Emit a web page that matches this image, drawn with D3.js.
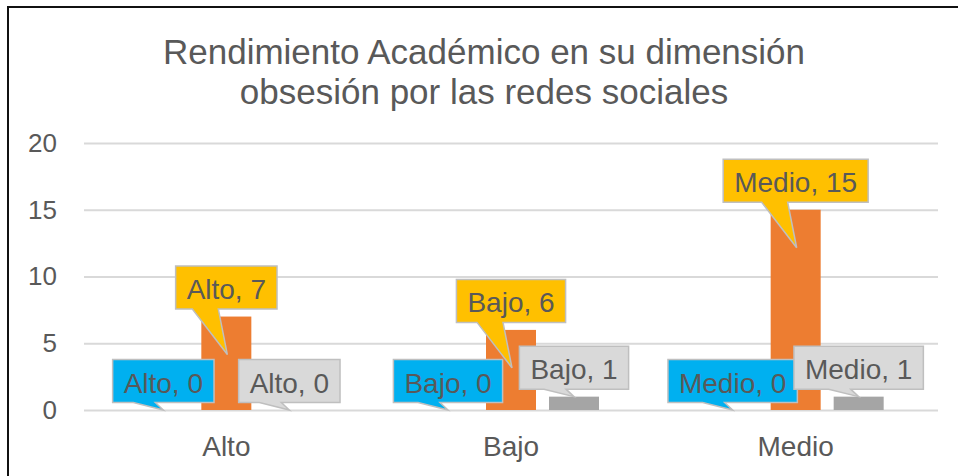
<!DOCTYPE html>
<html>
<head>
<meta charset="utf-8">
<script src="https://cdn.jsdelivr.net/npm/d3@7"></script>
<style>
  body { margin: 0; background: #fff; }
  svg { display: block; font-family: "Liberation Sans", Arial, sans-serif; }
</style>
</head>
<body>
<svg id="chart"></svg>
<script>
const categories = ["Alto", "Bajo", "Medio"]
const seriesKeys = ["Serie1", "Serie2", "Serie3"]
const serie1 = [0, 0, 0]
const serie2 = [7, 6, 15]
const serie3 = [0, 1, 1]
const yTicks = [0, 5, 10, 15, 20]
const titleLines = ["Rendimiento Académico en su dimensión", "obsesión por las redes sociales"]

const dimensions = {
  width: 958,
  height: 476,
  margin: { top: 143, right: 20, bottom: 66, left: 84 },
}

const barColors = ["#4472C4", "#ED7D31", "#A5A5A5"]
const labelColors = ["#00B0F0", "#FFC000", "#D9D9D9"]
const textColor = "#595959"

const svg = d3.select("#chart")
  .attr("width", dimensions.width)
  .attr("height", dimensions.height)

// outer frame of the chart
svg.append("rect")
  .attr("x", 8).attr("y", 7)
  .attr("width", 980).attr("height", 500)
  .attr("fill", "none")
  .attr("stroke", "#111")
  .attr("stroke-width", 2)

svg.append("g")
  .selectAll("text")
  .data(titleLines)
  .enter()
  .append("text")
  .attr("x", 484)
  .attr("y", (d, i) => 64 + i * 40)
  .attr("text-anchor", "middle")
  .attr("font-size", "35px")
  .attr("fill", textColor)
  .text(d => d)

const xScale = d3.scaleBand()
  .domain(categories)
  .range([dimensions.margin.left, 938])

const groupWidth = 176
const x1 = d3.scaleBand()
  .domain(seriesKeys)
  .range([0, groupWidth])
  .paddingInner(13 / 63)

const yScale = d3.scaleLinear()
  .domain([0, 20])
  .range([dimensions.height - dimensions.margin.bottom, dimensions.margin.top])

// gridlines
const yAxis = d3.axisLeft(yScale)
  .tickValues(yTicks)
  .tickSize(-(938 - dimensions.margin.left))
  .tickPadding(27)

const yAxisGroup = svg.append("g")
  .attr("transform", `translate(${dimensions.margin.left},0)`)
  .call(yAxis)
yAxisGroup.select(".domain").remove()
yAxisGroup.selectAll("line").attr("stroke", "#D9D9D9").attr("stroke-width", 2)
yAxisGroup.selectAll("text")
  .attr("fill", textColor)
  .attr("font-size", "26px")
  .attr("font-family", "Liberation Sans, Arial, sans-serif")

const xAxis = d3.axisBottom(xScale).tickSize(0).tickPadding(26)
const xAxisGroup = svg.append("g")
  .attr("transform", `translate(0,${yScale(0)})`)
  .call(xAxis)
xAxisGroup.select(".domain").remove()
xAxisGroup.selectAll("text")
  .attr("fill", textColor)
  .attr("font-size", "28px")
  .attr("font-family", "Liberation Sans, Arial, sans-serif")

const allSeries = [serie1, serie2, serie3]
const points = []
allSeries.forEach((vals, s) => {
  vals.forEach((v, c) => {
    points.push({ s: s, key: seriesKeys[s], cat: categories[c], value: v })
  })
})

const barX = d => xScale(d.cat) + (xScale.bandwidth() - groupWidth) / 2 + x1(d.key)

svg.append("g")
  .selectAll("rect")
  .data(points)
  .enter()
  .append("rect")
  .attr("x", d => barX(d))
  .attr("y", d => yScale(d.value))
  .attr("width", x1.bandwidth())
  .attr("height", d => yScale(0) - yScale(d.value))
  .attr("fill", d => barColors[d.s])

// callout labels
const labelG = svg.append("g")
const boxH = 43
const pad = 11

points.forEach(d => {
  const cx = barX(d) + x1.bandwidth() / 2
  const top = yScale(d.value)
  const g = labelG.append("g")
  const txt = g.append("text")
    .attr("x", cx)
    .attr("text-anchor", "middle")
    .attr("font-size", "28px")
    .attr("fill", textColor)
    .text(`${d.cat}, ${d.value}`)
  const w = txt.node().getComputedTextLength() + pad * 2
  const bottom = top - 7.5
  const y0 = bottom - boxH
  const x0 = cx - w / 2
  let tail
  if (d.s == 1) tail = [[cx - 8, bottom], [cx + 1, top + 38], [cx - 34, bottom]]
  else tail = [[cx - 8, bottom], [cx, top], [cx - 30, bottom]]
  const pts = [[x0, y0], [x0 + w, y0], [x0 + w, bottom]].concat(tail).concat([[x0, bottom]])
  g.insert("path", "text")
    .attr("d", d3.line()(pts) + "Z")
    .attr("fill", labelColors[d.s])
    .attr("stroke", "#BFBFBF")
    .attr("stroke-width", 1.5)
  txt.attr("y", y0 + 33)
})
</script>
</body>
</html>
